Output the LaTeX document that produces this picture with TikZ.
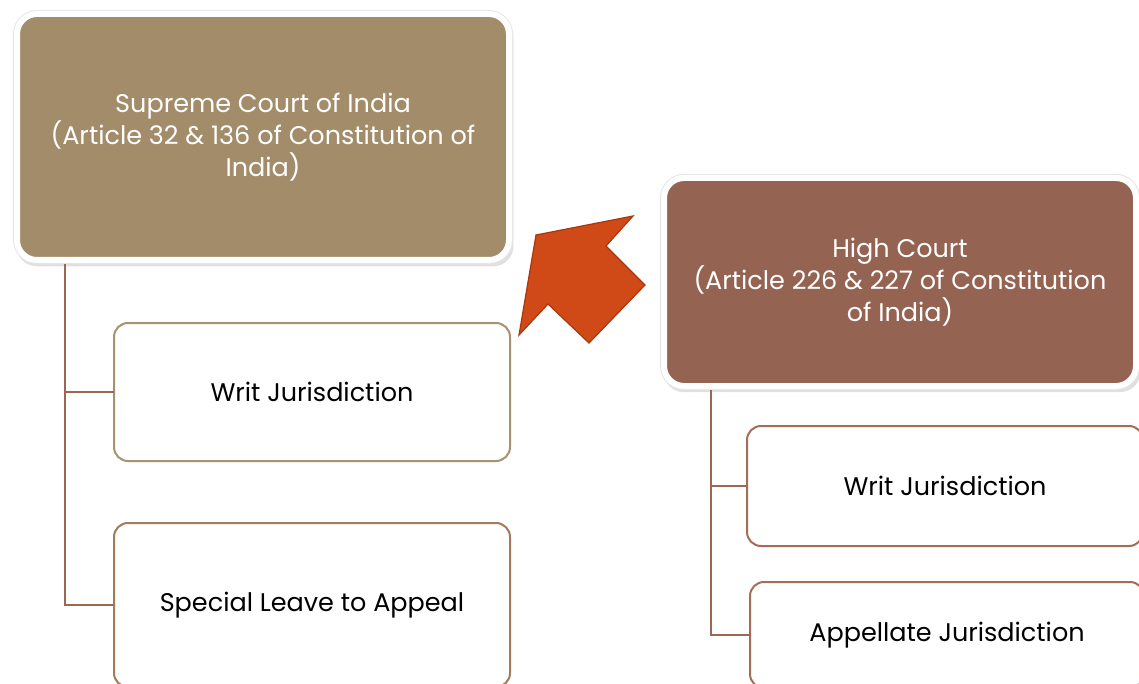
\documentclass[tikz,border=0pt]{standalone}
\usepackage{fontspec}
\setmainfont{Poppins}
\usetikzlibrary{positioning,shadows}
\definecolor{supremeColor}{RGB}{163,140,106}
\definecolor{highColor}{RGB}{149,99,82}
\definecolor{trunkColor}{RGB}{158,102,82}
\definecolor{supremeEdge}{RGB}{168,145,112}
\definecolor{leaveEdge}{RGB}{162,122,94}
\definecolor{highEdge}{RGB}{163,110,87}
\definecolor{arrowColor}{RGB}{208,74,23}
\definecolor{arrowEdge}{RGB}{168,54,15}
\newcommand{\boxFont}{\fontsize{25.5}{32}\selectfont}
\tikzstyle{courtStyle} = [draw=white, line width=6pt, rounded corners=20pt, text=white, align=center, font=\boxFont, inner sep=0pt, outer sep=0pt, drop shadow={shadow xshift=2pt, shadow yshift=-5pt, shadow scale=1.01, opacity=.12, fill=black}, drop shadow={shadow xshift=1pt, shadow yshift=-3pt, opacity=.25, fill=black}, preaction={draw=black!10, line width=8pt}]
\tikzstyle{childStyle} = [fill=white, line width=2pt, rounded corners=14pt, align=center, font=\boxFont, inner sep=0pt, outer sep=0pt]
\tikzstyle{trunkLine} = [color=trunkColor, line width=2pt]
\tikzstyle{arrowStyle} = [fill=arrowColor, draw=arrowEdge, line width=1.2pt, line join=miter]

\begin{document}
\begin{tikzpicture}[x=1pt, y=-1pt]
  \path [use as bounding box, clip] (0,0) rectangle (1139,684);

  \node [courtStyle, fill=supremeColor, minimum width=492pt, minimum height=246pt] (supreme) at (263,137) {Supreme Court of India\\(Article 32 \& 136 of Constitution of\\India)};
  \node [childStyle, draw=supremeEdge, minimum width=396pt, minimum height=138pt] (supremeWrit) at (312,392) {Writ Jurisdiction};
  \node [childStyle, draw=leaveEdge, minimum width=396pt, minimum height=164pt] (supremeLeave) at (312,605) {Special Leave to Appeal};

  \node [courtStyle, fill=highColor, minimum width=472pt, minimum height=208pt] (high) at (900,282) {High Court\\(Article 226 \& 227 of Constitution\\of India)};
  \node [childStyle, draw=highEdge, minimum width=396pt, minimum height=120pt] (highWrit) at (945,486) {Writ Jurisdiction};
  \node [childStyle, draw=highEdge, minimum width=394pt, minimum height=106pt] (highAppeal) at (947,635) {Appellate Jurisdiction};

  \coordinate (supremeTrunk) at ([xshift=48pt, yshift=-4pt]supreme.south west);
  \coordinate (highTrunk) at ([xshift=47pt, yshift=-4pt]high.south west);
  \draw [trunkLine] (supremeTrunk) |- (supremeWrit.west);
  \draw [trunkLine] (supremeTrunk) |- (supremeLeave.west);
  \draw [trunkLine] (highTrunk) |- (highWrit.west);
  \draw [trunkLine] (highTrunk) |- (highAppeal.west);

  \filldraw [arrowStyle] (536,235) -- (633,216) -- (606,246) -- (645,285) -- (589,343) -- (548,304) -- (519,335) -- cycle;
\end{tikzpicture}
\end{document}
